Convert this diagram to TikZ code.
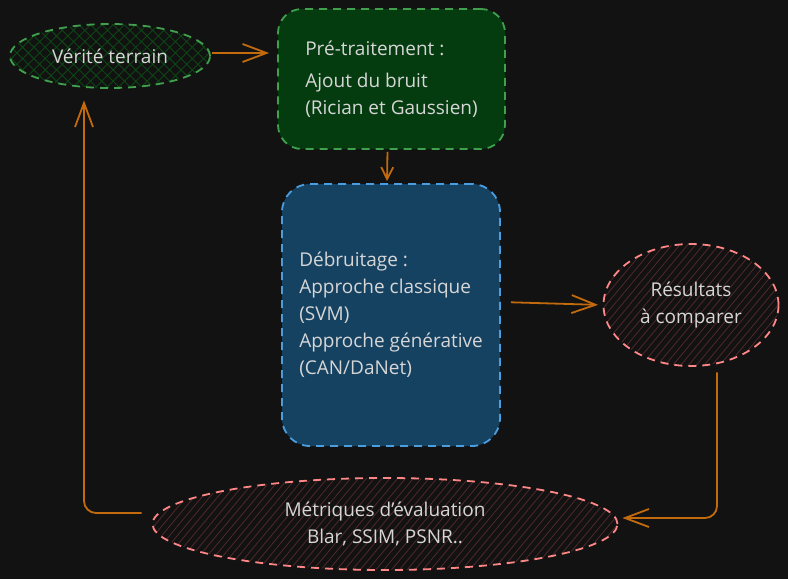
\documentclass[tikz,border=0pt]{standalone}
\usepackage{fontspec}
\setmainfont{Open Sans}
\usetikzlibrary{shapes.geometric,arrows.meta,patterns.meta}
\definecolor{bgdark}{HTML}{121212}
\definecolor{txtgray}{HTML}{D6D6D6}
\definecolor{grnline}{HTML}{40A04E}
\definecolor{grnfill}{HTML}{043B0F}
\definecolor{grnhatch}{HTML}{0C4614}
\definecolor{bluline}{HTML}{4A9EE0}
\definecolor{blufill}{HTML}{164262}
\definecolor{pnkline}{HTML}{FF8787}
\definecolor{pnkhatch}{HTML}{52292B}
\definecolor{arrorange}{HTML}{C26A0C}
\tikzset{
  every node/.style={text=txtgray,font=\fontsize{19}{27}\selectfont},
  sketchline/.style={line width=1.8pt,dash pattern=on 8pt off 6pt},
  greenoval/.style={ellipse,sketchline,draw=grnline,
    pattern={Hatch[angle=45,distance=8pt,line width=0.9pt]},pattern color=grnhatch},
  pinkoval/.style={ellipse,sketchline,draw=pnkline,
    pattern={Lines[angle=50,distance=6pt,line width=0.8pt]},pattern color=pnkhatch},
  greenbox/.style={rectangle,rounded corners=24pt,sketchline,draw=grnline,fill=grnfill,align=left},
  bluebox/.style={rectangle,rounded corners=28pt,sketchline,draw=bluline,fill=blufill,align=left},
  flow/.style={draw=arrorange,line width=1.8pt,rounded corners=12pt,
    -{Straight Barb[length=24pt,width=18pt,line width=1.8pt]}},
  shortflow/.style={draw=arrorange,line width=1.8pt,
    -{Straight Barb[length=12pt,width=12pt,line width=1.8pt]}}
}
\begin{document}
\begin{tikzpicture}[x=1pt,y=-1pt]
\fill[bgdark] (0,0) rectangle (788,579);
\useasboundingbox (0,0) rectangle (788,579);
% nodes
\node[greenoval,minimum width=200pt,minimum height=64pt] (verite) at (110,56) {Vérité terrain};
\node[greenbox,minimum width=227pt,minimum height=140pt] (pretrait) at (391.5,79)
  {Pré-traitement :\\[5pt]Ajout du bruit\\(Rician et Gaussien)};
\node[bluebox,minimum width=218pt,minimum height=262pt] (debruit) at (391,315)
  {Débruitage :\\Approche classique\\(SVM)\\Approche générative\\(CAN/DaNet)};
\node[pinkoval,minimum width=175pt,minimum height=122pt,align=center] (resultats) at (691,305)
  {Résultats\\à comparer};
\node[pinkoval,minimum width=465pt,minimum height=92pt,align=center] (metriques) at (385,524)
  {Métriques d'évaluation\\Blar, SSIM, PSNR..};
% connectors
\draw[flow,shorten <=2pt,shorten >=8pt] ([yshift=3pt]verite.east) -- ([yshift=3pt]pretrait.west |- verite.east);
\draw[shortflow,shorten <=2pt,shorten >=2pt] ([xshift=-4pt]pretrait.south) -- ([xshift=-4pt]debruit.north);
\draw[flow,shorten <=10pt,shorten >=5pt] ([yshift=13pt]debruit.east) -- (resultats.west);
\draw[flow,shorten <=6pt,shorten >=4pt] ([xshift=26pt]resultats.south) |- ([yshift=6pt]metriques.east);
\draw[flow,shorten <=10pt,shorten >=12pt] ([yshift=11pt]metriques.west) -| ([xshift=-26pt]verite.south);
\end{tikzpicture}
\end{document}
